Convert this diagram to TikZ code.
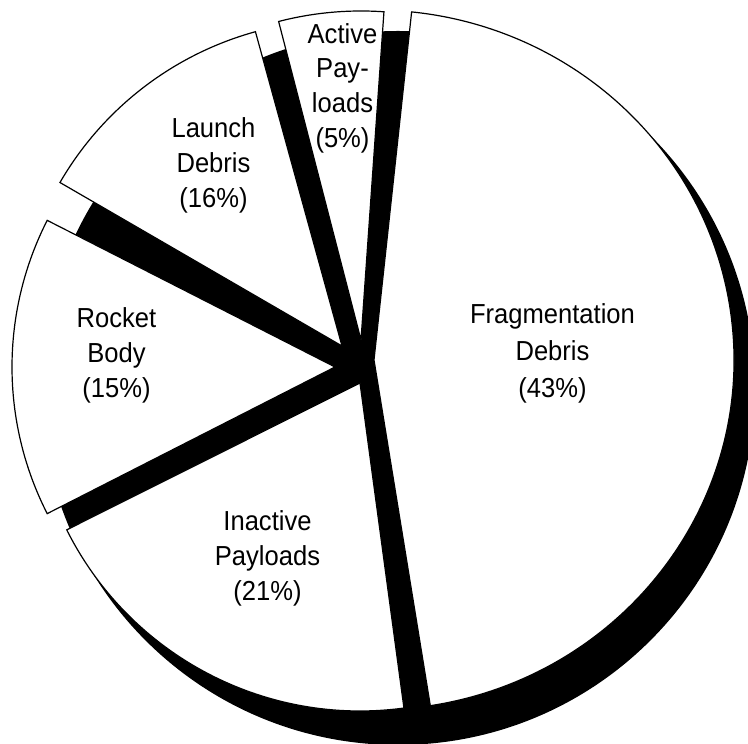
\documentclass[tikz,border=0pt]{standalone}
\usepackage{fontspec}
\setmainfont[FakeStretch=0.93]{Liberation Sans}
\begin{document}
\begin{tikzpicture}[x=1pt,y=1pt,
  slice/.style={fill=white,draw=black,line width=1.2pt,line join=miter},
  shadow/.style={fill=black},
  lbl/.style={align=center,inner sep=0pt,font=\fontsize{27.5}{34.6}\selectfont},
  lblbig/.style={align=center,inner sep=0pt,font=\fontsize{27.5}{37}\selectfont}]
\useasboundingbox (0,0) rectangle (748,744);
\clip (0,0) rectangle (748,744);
% shadow disk
\coordinate (sc) at (398,356);
\fill[shadow] (sc) circle[radius=357];
% slice vertices
\coordinate (vF) at (374,384);
\coordinate (vA) at (361,404);
\coordinate (vL) at (342,398);
\coordinate (vR) at (335,377);
\coordinate (vI) at (360,361);
% slices
\draw[slice] (vF) -- ++(-81:360 and 350) arc[start angle=-81,end angle=84,x radius=360,y radius=350] -- cycle;
\draw[slice] (vA) -- ++(86:329) arc[start angle=86,end angle=104.5,radius=329] -- cycle;
\draw[slice] (vL) -- ++(105.4:326) arc[start angle=105.4,end angle=149.9,radius=326] -- cycle;
\draw[slice] (vR) -- ++(153:323) arc[start angle=153,end angle=207,radius=323] -- cycle;
\draw[slice] (vI) -- ++(206.6:328) arc[start angle=206.6,end angle=277.7,radius=328] -- cycle;
% labels
\node[lblbig] (tF) at (552.5,391) {Fragmentation\\Debris\\(43\%)};
\node[lbl] (tA) at (342.5,656) {Active\\Pay-\\loads\\(5\%)};
\node[lbl] (tL) at (213.5,578.6) {Launch\\Debris\\(16\%)};
\node[lbl] (tR) at (116.5,388.6) {Rocket\\Body\\(15\%)};
\node[lbl] (tI) at (267.5,185.7) {Inactive\\Payloads\\(21\%)};
\end{tikzpicture}
\end{document}
